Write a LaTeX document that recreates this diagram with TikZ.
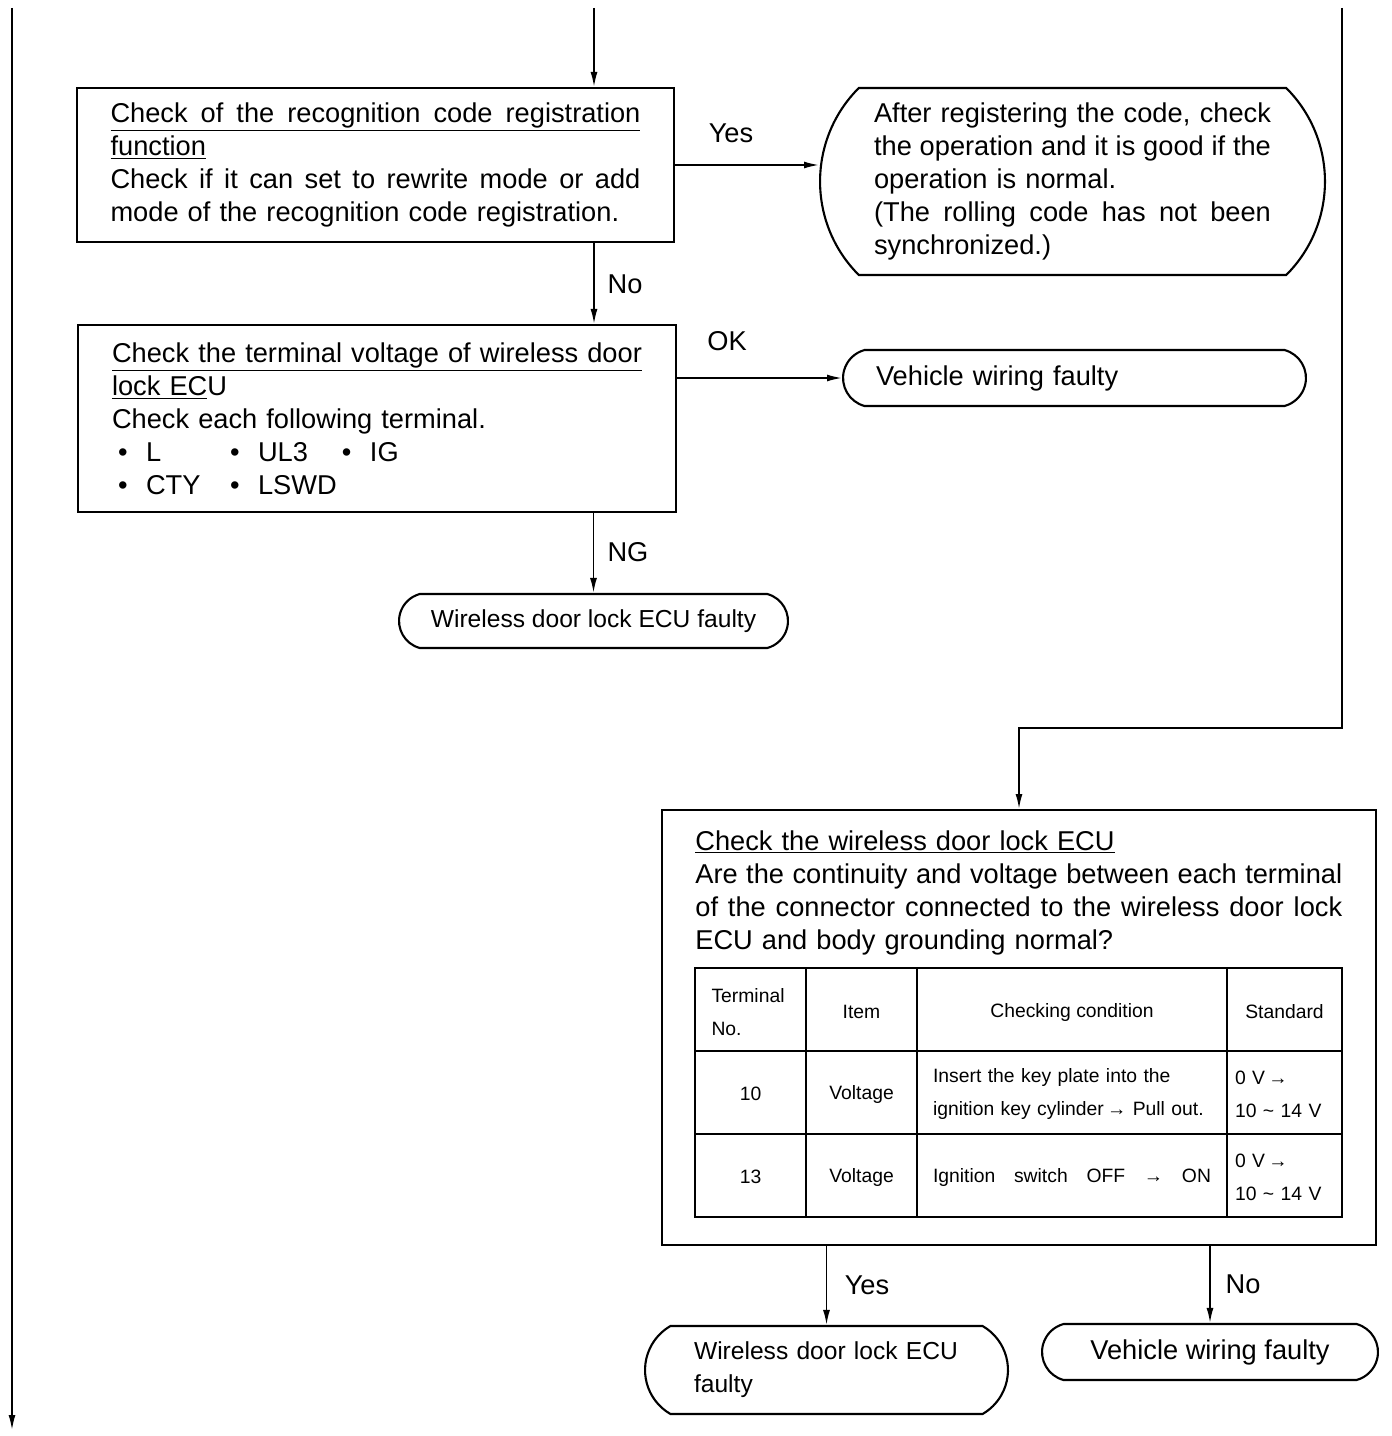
\documentclass[tikz,border=0pt]{standalone}
\usepackage{fontspec}
\setmainfont{Liberation Sans}
\usetikzlibrary{shapes.misc,positioning,arrows.meta}

\newcommand{\jfill}[1]{\makebox[\hsize][s]{\spaceskip=\fontdimen2\font plus 1fil\relax #1}}
\newcommand{\term}[1]{\makebox[2.24cm][l]{\hspace{0.12cm}\makebox[0.56cm][l]{\textbullet}#1}}

\begin{document}
\begin{tikzpicture}[
    x=0.02cm, y=-0.02cm,
    txt/.style={inner sep=0pt, align=left, font=\fontsize{15.5pt}{18.8pt}\selectfont},
    box/.style={txt, draw, line width=1.2pt},
    endbox/.style={txt, draw, line width=1.2pt, rounded rectangle, rounded rectangle arc length=150},
    lbl/.style={font=\fontsize{15.5pt}{18.8pt}\selectfont},
    cell/.style={inner sep=0pt, font=\fontsize{11pt}{18.7pt}\selectfont},
    arr/.style={-{Latex[length=3mm,width=1.4mm]}, line width=1pt},
    tline/.style={line width=1.1pt}
]
    \useasboundingbox (0,0) rectangle (1392,1436);

    % Through lines
    \coordinate (ltop) at (12,8);
    \coordinate (lbot) at (12,1430);
    \coordinate (ctop) at (594,8);
    \coordinate (rtop) at (1342,8);
    \coordinate (rbend) at (1342,728);

    % Registration function check
    \node[box, text width=10.6cm, minimum width=11.94cm, minimum height=3.08cm] (regchk) at (375.5,165)
        {\underline{\jfill{Check of the recognition code registration}}\\\underline{function}\\
         \jfill{Check if it can set to rewrite mode or add}\\mode of the recognition code registration.};
    \node[endbox, rounded rectangle arc length=90, text width=7.94cm, minimum width=10.1cm, minimum height=3.74cm] (after) at (1072.5,181.5)
        {\jfill{After registering the code, check}\\\jfill{the operation and it is good if the}\\operation is normal.\\
         \jfill{(The rolling code has not been}\\synchronized.)};

    % Terminal voltage check
    \node[box, text width=10.6cm, minimum width=11.96cm, minimum height=3.74cm] (volchk) at (377,418.5)
        {\underline{\jfill{Check the terminal voltage of wireless door}}\\\underline{lock EC}U\\
         Check each following terminal.\\\term{L}\term{UL3}\term{IG}\\\term{CTY}\term{LSWD}};
    \node[endbox, text width=7.94cm, minimum width=9.26cm, minimum height=1.12cm] (wire1) at (1074.5,378) {Vehicle wiring faulty};
    \node[endbox, align=center, font=\fontsize{14pt}{18.8pt}\selectfont, minimum width=7.78cm, minimum height=1.08cm] (ecu1) at (593.5,621) {Wireless door lock ECU faulty};

    % ECU check
    \node[box, minimum width=14.28cm, minimum height=8.7cm] (ecuchk) at (1019,1027.5) {};
    \node[txt, anchor=north west, text width=12.94cm] (ecuq) at (695,830)
        {\underline{Check the wireless door lock ECU}\\\jfill{Are the continuity and voltage between each terminal}\\
         \jfill{of the connector connected to the wireless door lock}\\ECU and body grounding normal?};

    % Table
    \draw[tline] (695,968) rectangle (1342,1217);
    \foreach \cx in {806,917,1227} \draw[tline] (\cx,968) -- (\cx,1217);
    \foreach \ry in {1051,1134} \draw[tline] (695,\ry) -- (1342,\ry);
    \node[cell, text width=1.56cm, align=left] (hterm) at (750.5,1012) {Terminal\\No.};
    \node[cell] (hitem) at (861.5,1012) {Item};
    \node[cell] (hcond) at (1072,1012) {Checking condition};
    \node[cell] (hstd) at (1284.5,1012) {Standard};
    \node[cell] (n10) at (750.5,1094) {10};
    \node[cell] (v10) at (861.5,1094) {Voltage};
    \node[cell, text width=5.56cm, align=left] (c10) at (1072,1094) {Insert the key plate into the\\ignition key cylinder\,→ Pull out.};
    \node[cell, text width=1.98cm, align=left] (s10) at (1284.5,1094) {0 V\,→\\10 \textasciitilde{} 14 V};
    \node[cell] (n13) at (750.5,1177) {13};
    \node[cell] (v13) at (861.5,1177) {Voltage};
    \node[cell, text width=5.56cm, align=left] (c13) at (1072,1177) {\jfill{Ignition switch OFF → ON}};
    \node[cell, text width=1.98cm, align=left] (s13) at (1284.5,1177) {0 V\,→\\10 \textasciitilde{} 14 V};

    % Results
    \node[endbox, rounded rectangle arc length=120, font=\fontsize{14pt}{18.8pt}\selectfont, text width=5.3cm, minimum width=7.26cm, minimum height=1.76cm] (ecu2) at (826.5,1370) {Wireless door lock ECU\\faulty};
    \node[endbox, align=center, minimum width=6.72cm, minimum height=1.12cm] (wire2) at (1210,1352) {Vehicle wiring faulty};

    % Labels
    \node[lbl] (yes1) at (731,133) {Yes};
    \node[lbl] (no1) at (625,284) {No};
    \node[lbl] (ok1) at (727,341) {OK};
    \node[lbl] (ng1) at (628,552) {NG};
    \node[lbl] (yes2) at (867,1285) {Yes};
    \node[lbl] (no2) at (1243,1284) {No};

    % Arrows
    \draw[arr] (ltop) -- (lbot);
    \draw[arr] (ctop) -- (regchk.north -| ctop);
    \draw[arr] (regchk.east) -- (regchk.east -| after.west);
    \draw[arr] (regchk.south -| ctop) -- (volchk.north -| ctop);
    \draw[arr] (volchk.east |- wire1.west) -- (wire1.west);
    \draw[arr] (volchk.south -| ecu1.north) -- (ecu1.north);
    \draw[arr] (rtop) -- (rbend) -| (ecuchk.north);
    \draw[arr] (ecuchk.south -| ecu2.north) -- (ecu2.north);
    \draw[arr] (ecuchk.south -| wire2.north) -- (wire2.north);
\end{tikzpicture}
\end{document}
